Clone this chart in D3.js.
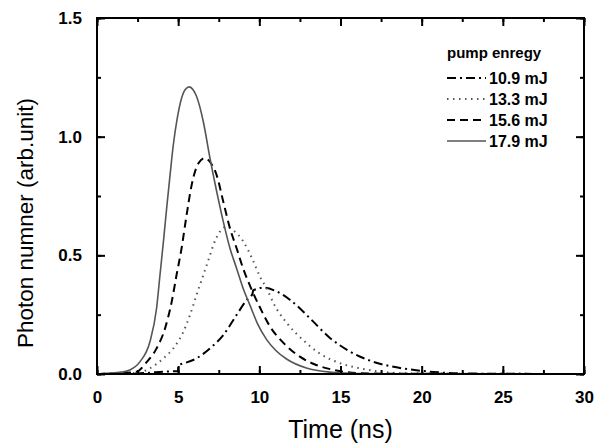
<!DOCTYPE html>
<html>
<head>
<meta charset="utf-8">
<script src="https://cdn.jsdelivr.net/npm/d3@7"></script>
<style>
  body { margin: 0; background: #fff; }
  text { font-family: Arial, "Liberation Sans", sans-serif; }
</style>
</head>
<body>
<svg width="605" height="447"></svg>
<script>
// series: [time (ns), photon number]
var e109 = [[0, 0], [2.95, 0.004], [4.09, 0.01], [4.98, 0.012], [5.02, 0.038], [5.11, 0.04], [6.13, 0.066],
  [6.96, 0.108], [7.78, 0.164], [8.6, 0.249], [9.2, 0.31], [9.58, 0.338], [9.62, 0.352], [10.3, 0.364],
  [11.0, 0.35], [11.9, 0.312], [13.1, 0.236], [14.35, 0.152], [15.6, 0.094], [17.0, 0.052],
  [18.46, 0.028], [19.9, 0.014], [21.5, 0.005], [23, 0.002], [25, 0.001], [30, 0]];
var e133 = [[0, 0], [2.5, 0.005], [3.26, 0.024], [4.09, 0.066], [4.7, 0.108], [5.32, 0.178], [5.73, 0.249],
  [6.13, 0.333], [6.55, 0.417], [6.96, 0.5], [7.17, 0.544], [7.58, 0.6], [7.95, 0.62], [8.4, 0.605],
  [9.0, 0.56], [9.6, 0.48], [10.04, 0.41], [10.5, 0.354], [10.86, 0.3], [11.7, 0.214], [12.7, 0.143],
  [13.7, 0.087], [15.0, 0.045], [16.2, 0.024], [17.4, 0.01], [19, 0.003], [30, 0]];
var e156 = [[0, 0], [1.5, 0.003], [2.44, 0.01], [3.06, 0.05], [3.67, 0.108], [4.19, 0.192], [4.6, 0.304],
  [4.9, 0.417], [5.21, 0.53], [5.52, 0.67], [5.83, 0.796], [6.24, 0.887], [6.65, 0.91], [7.0, 0.89],
  [7.37, 0.838], [7.78, 0.726], [8.19, 0.614], [8.6, 0.53], [9.0, 0.445], [9.5, 0.36], [10.04, 0.28],
  [10.66, 0.2], [11.5, 0.13], [12.5, 0.073], [13.5, 0.038], [14.6, 0.017], [16, 0.004], [18, 0.001], [30, 0]];
var e179 = [[0, 0], [0.5, 0.003], [1.5, 0.008], [2.03, 0.017], [2.65, 0.052], [3.26, 0.136], [3.67, 0.277],
  [3.88, 0.417], [4.09, 0.557], [4.29, 0.698], [4.5, 0.838], [4.7, 0.965], [4.95, 1.08], [5.2, 1.16],
  [5.45, 1.2], [5.69, 1.21], [5.92, 1.198], [6.13, 1.17], [6.55, 1.063], [6.96, 0.909], [7.37, 0.77],
  [7.78, 0.642], [8.19, 0.53], [8.6, 0.445], [9.0, 0.361], [9.42, 0.29], [9.9, 0.21], [10.45, 0.145],
  [11.0, 0.1], [11.7, 0.062], [12.9, 0.025], [14.5, 0.007], [16, 0.002], [20, 0], [30, 0]];

var legendTitle = "pump enregy";
var labels = ["10.9 mJ", "13.3 mJ", "15.6 mJ", "17.9 mJ"];
var xTicks = [0, 5, 10, 15, 20, 25, 30];
var yTicks = [0.0, 0.5, 1.0, 1.5];

var series = [
  {name: labels[0], data: e109, color: "#000", width: 2, dash: "9,4,2,4"},
  {name: labels[1], data: e133, color: "#555", width: 2, dash: "1.5,4.5"},
  {name: labels[2], data: e156, color: "#000", width: 2, dash: "8,5"},
  {name: labels[3], data: e179, color: "#555", width: 1.6, dash: null}
];

var svg = d3.select("svg"),
    margin = {top: 18, right: 21, bottom: 73, left: 97},
    width = +svg.attr("width") - margin.left - margin.right,
    height = +svg.attr("height") - margin.top - margin.bottom;

var x = d3.scaleLinear().domain([0, 30]).range([0, width]);
var y = d3.scaleLinear().domain([0, 1.5]).range([height, 0]);

var g = svg.append("g").attr("transform", "translate(" + margin.left + "," + margin.top + ")");

// curves
var line = d3.line()
    .x(function (d) { return x(d[0]); })
    .y(function (d) { return y(d[1]); })
    .curve(d3.curveMonotoneX);

g.selectAll(".curve")
  .data(series)
  .enter().append("path")
  .attr("class", "curve")
  .attr("fill", "none")
  .attr("stroke", function (d) { return d.color; })
  .attr("stroke-width", function (d) { return d.width; })
  .attr("stroke-dasharray", function (d) { return d.dash; })
  .attr("d", function (d) { return line(d.data); });

// axes (ticks pointing inward, mirrored on top / right)
function styleAxis(sel) {
  sel.select(".domain").remove();
  sel.selectAll(".tick line").attr("stroke", "#000").attr("stroke-width", 2);
  sel.selectAll(".tick text")
    .attr("fill", "#000")
    .style("font-size", "17px")
    .style("font-weight", "bold");
}

var xMinor = d3.range(0, 30.01, 2.5);
var yMinor = d3.range(0, 1.501, 0.25);

g.append("g").attr("transform", "translate(0," + height + ")")
  .call(d3.axisBottom(x).tickValues(xMinor).tickSize(-4).tickFormat(""))
  .call(styleAxis);
g.append("g").attr("transform", "translate(0," + height + ")")
  .call(d3.axisBottom(x).tickValues(xTicks).tickSize(-8).tickPadding(17).tickFormat(d3.format("d")))
  .call(styleAxis);
g.append("g")
  .call(d3.axisTop(x).tickValues(xMinor).tickSize(-4).tickFormat(""))
  .call(styleAxis);
g.append("g")
  .call(d3.axisTop(x).tickValues(xTicks).tickSize(-8).tickFormat(""))
  .call(styleAxis);

g.append("g")
  .call(d3.axisLeft(y).tickValues(yMinor).tickSize(-4).tickFormat(""))
  .call(styleAxis);
g.append("g")
  .call(d3.axisLeft(y).tickValues(yTicks).tickSize(-8).tickPadding(15).tickFormat(d3.format(".1f")))
  .call(styleAxis);
g.append("g").attr("transform", "translate(" + width + ",0)")
  .call(d3.axisRight(y).tickValues(yMinor).tickSize(-4).tickFormat(""))
  .call(styleAxis);
g.append("g").attr("transform", "translate(" + width + ",0)")
  .call(d3.axisRight(y).tickValues(yTicks).tickSize(-8).tickFormat(""))
  .call(styleAxis);

// frame
g.append("rect")
  .attr("width", width).attr("height", height)
  .attr("fill", "none").attr("stroke", "#000").attr("stroke-width", 2);

// axis titles
svg.append("text")
  .attr("x", margin.left + width / 2).attr("y", 438)
  .attr("text-anchor", "middle")
  .style("font-size", "25px")
  .text("Time (ns)");

svg.append("text")
  .attr("transform", "translate(33,223) rotate(-90)")
  .attr("text-anchor", "middle")
  .style("font-size", "22.5px")
  .text("Photon numner (arb.unit)");

// legend
var legend = svg.append("g").attr("transform", "translate(447,0)");
legend.append("text")
  .attr("x", 0).attr("y", 58)
  .style("font-size", "15px").style("font-weight", "bold")
  .text(legendTitle);

var item = legend.selectAll(".item")
  .data(series)
  .enter().append("g")
  .attr("class", "item")
  .attr("transform", function (d, i) { return "translate(0," + (78 + i * 21) + ")"; });

item.append("line")
  .attr("x1", 0).attr("x2", 39).attr("y1", 0).attr("y2", 0)
  .attr("stroke", function (d) { return d.color; })
  .attr("stroke-width", function (d) { return d.width; })
  .attr("stroke-dasharray", function (d) { return d.dash; });

item.append("text")
  .attr("x", 42).attr("y", 6)
  .style("font-size", "16px").style("font-weight", "bold")
  .text(function (d) { return d.name; });
</script>
</body>
</html>
